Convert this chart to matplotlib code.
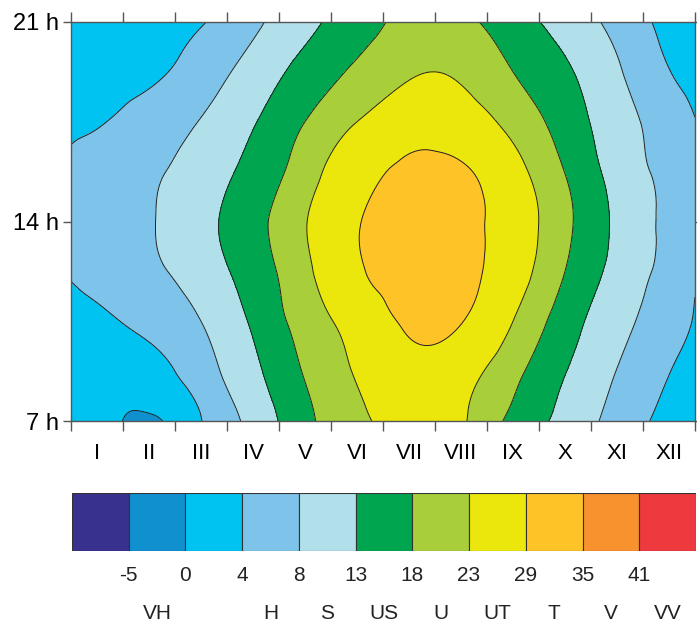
import numpy as np
import matplotlib
matplotlib.use('Agg')
import matplotlib.pyplot as plt
import matplotlib.tri as mtri

plt.rcParams['font.family'] = ['Liberation Sans', 'DejaVu Sans']

# grid positions: month axis (0 = start of Jan, 12 = end of Dec) and hour of day
month_pos = [0, 0.5, 1.5, 2.5, 3.5, 4.5, 5.5, 6.5, 7.5, 8.5, 9.5, 10.5, 11.5, 12]
hours = [7, 8.75, 10.5, 12.25, 14, 15.75, 17.5, 19.25, 21]

# values, one row per hour (bottom to top)
r0700 = [1.8, 1.3, -0.6, 3.9, 9.5, 16.7, 22.0, 24.4, 23.6, 16.6, 11.5, 6.3, 3.1, 2.3]
r0845 = [1.5, 1.6, 2.6, 6.1, 11.8, 18.4, 23.5, 27.1, 25.3, 19.5, 13.2, 7.9, 4.1, 2.8]
r1030 = [2.8, 3.3, 5.06, 8.0, 13.7, 20.1, 25.5, 29.8, 29.2, 23.0, 15.5, 9.6, 5.5, 3.8]
r1215 = [4.4, 5.3, 7.1, 10.3, 15.4, 21.8, 28.4, 30.2, 30.0, 25.8, 18.0, 11.4, 6.5, 4.6]
r1400 = [5.8, 6.5, 7.7, 11.4, 16.3, 22.7, 28.7, 30.6, 30.3, 26.3, 19.2, 12.0, 7.3, 6.5]
r1545 = [4.8, 5.6, 7.25, 10.2, 14.7, 20.6, 27.0, 29.8, 29.6, 25.0, 17.9, 11.1, 6.7, 5.3]
r1730 = [3.4, 3.75, 5.6, 8.2, 12.6, 18.0, 23.0, 26.5, 25.8, 21.4, 15.8, 10.1, 5.8, 4.1]
r1915 = [2.0, 2.4, 3.3, 5.8, 9.9, 14.8, 18.9, 22.4, 22.2, 18.0, 13.75, 8.6, 4.1, 3.0]
r2100 = [1.5, 2.0, 2.8, 3.8, 7.0, 11.7, 15.6, 19.5, 19.2, 15.2, 11.0, 6.6, 3.0, 1.8]

month_labels = ['I', 'II', 'III', 'IV', 'V', 'VI', 'VII', 'VIII', 'IX', 'X', 'XI', 'XII']
hour_ticks = [7, 14, 21]
hour_labels = ['7 h', '14 h', '21 h']

bounds = [-5, 0, 4, 8, 13, 18, 23, 29, 35, 41]
bound_labels = ['-5', '0', '4', '8', '13', '18', '23', '29', '35', '41']
classes = ['', 'VH', '', 'H', 'S', 'US', 'U', 'UT', 'T', 'V', 'VV']
colors = ['#38318d', '#1190d0', '#00c3f1', '#7dc3ea', '#b1e0ea', '#00a550',
          '#a8cf3a', '#ebe60c', '#fec327', '#f7922f', '#ee3a3f']

Z = np.array([r0700, r0845, r1030, r1215, r1400, r1545, r1730, r1915, r2100])
ny, nx = Z.shape

# work on a grid with roughly square cells, then map back to hours
hstep = 1.75
X, Yc = np.meshgrid(month_pos, (np.array(hours) - 7) / hstep)

tris = []
for j in range(ny - 1):
    for i in range(nx - 1):
        a = j * nx + i
        b = a + 1
        c = a + nx
        d = c + 1
        if (i + j) % 2 == 0:
            tris += [[a, b, d], [a, d, c]]
        else:
            tris += [[a, b, c], [b, d, c]]

tri = mtri.Triangulation(X.ravel(), Yc.ravel(), tris)
refiner = mtri.UniformTriRefiner(tri)
tri_c, z_f = refiner.refine_field(Z.ravel(), subdiv=4)
tri_f = mtri.Triangulation(tri_c.x, tri_c.y * hstep + 7, tri_c.triangles)

levels = [-30] + bounds + [60]

fig = plt.figure(figsize=(6.97, 6.23), dpi=100)
ax = fig.add_axes([0.1019, 0.3242, 0.8952, 0.6405])

ax.tricontourf(tri_f, z_f, levels=levels, colors=colors)
ax.tricontour(tri_f, z_f, levels=bounds, colors='#222222', linewidths=0.7)

ax.set_xlim(0, 12)
ax.set_ylim(7, 21)

ax.set_xticks(range(13))
ax.set_xticklabels([])
ax.set_xticks(np.arange(12) + 0.5, minor=True)
ax.set_xticklabels(month_labels, minor=True, fontsize=16)
ax.tick_params(axis='x', which='major', direction='out', length=7,
               top=True, width=1, color='#555555')
ax.tick_params(axis='x', which='minor', length=0, pad=16)

ax.set_yticks(hour_ticks)
ax.set_yticklabels(hour_labels, fontsize=17)
ax.tick_params(axis='y', direction='out', length=6, right=True,
               width=1, color='#555555', pad=3)

for sp in ax.spines.values():
    sp.set_color('#555555')
    sp.set_linewidth(1)

# class colour scale
cax = fig.add_axes([0.1033, 0.1156, 0.8952, 0.0931])
cax.bar(np.arange(11) + 0.5, 1, width=1, color=colors,
        edgecolor='#333333', linewidth=0.8)
cax.set_xlim(0, 11)
cax.set_ylim(0, 1)
cax.axis('off')

for i, lab in enumerate(bound_labels):
    cax.text(i + 1, -0.43, lab, ha='center', va='center', fontsize=15,
             color='#222222', clip_on=False)

for i, lab in enumerate(classes):
    if lab:
        cax.text(i + 0.5, -1.08, lab, ha='center', va='center', fontsize=15,
                 color='#222222', clip_on=False)

fig.savefig('out.png', dpi=100)
